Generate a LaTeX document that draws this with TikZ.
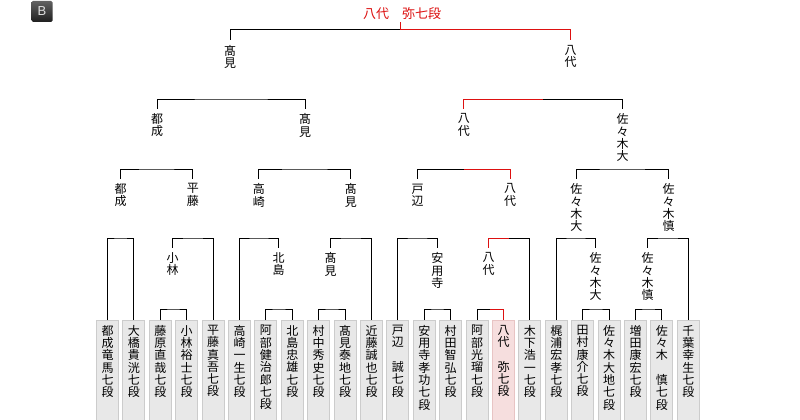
\documentclass[tikz,border=0pt]{standalone}
\usepackage{fontspec}
\newfontfamily\jp{Noto Sans CJK JP}
\newfontfamily\lat{Liberation Sans}
\definecolor{wred}{RGB}{221,17,17}
\definecolor{boxfill}{RGB}{232,232,232}
\definecolor{boxline}{RGB}{204,204,204}
\definecolor{pinkfill}{RGB}{246,222,222}
\definecolor{pinkline}{RGB}{232,196,196}
\tikzset{
  ln/.style={line width=1pt, black},
  rln/.style={line width=1pt, wred},
  nm/.style={inner sep=0pt, anchor=north, align=center, font=\jp\fontsize{12}{12.3}\selectfont},
  pbox/.style={draw=boxline, fill=boxfill, line width=1pt, minimum width=22pt, minimum height=106pt, anchor=north, inner sep=0pt},
  pinkbox/.style={pbox, draw=pinkline, fill=pinkfill},
  ttl/.style={inner sep=0pt, text=wred, font=\jp\fontsize{13}{13}\selectfont},
  badge/.style={minimum width=21pt, minimum height=21pt, inner sep=0pt, rounded corners=1.5pt,
    top color=black!62, bottom color=black!88, text=black!12, font=\lat\fontsize{13}{13}\selectfont}
}
\begin{document}
\begin{tikzpicture}[x=1pt,y=-1pt]
\useasboundingbox (0,0) rectangle (800,420);
\fill[white] (0,0) rectangle (800,420);
% badge
\node[badge] (bd) at (42,11.5) {B};
% player boxes
\foreach \i/\xx/\t in {
 0/107.5/{都\\成\\竜\\馬\\七\\段},
 1/133.9/{大\\橋\\貴\\洸\\七\\段},
 2/160.3/{藤\\原\\直\\哉\\七\\段},
 3/186.7/{小\\林\\裕\\士\\七\\段},
 4/213.1/{平\\藤\\真\\吾\\七\\段},
 5/239.5/{高\\崎\\一\\生\\七\\段},
 6/265.9/{阿\\部\\健\\治\\郎\\七\\段},
 7/292.3/{北\\島\\忠\\雄\\七\\段},
 8/318.7/{村\\中\\秀\\史\\七\\段},
 9/345.1/{髙\\見\\泰\\地\\七\\段},
 10/371.5/{近\\藤\\誠\\也\\七\\段},
 11/397.9/{戸\\辺\\　\\誠\\七\\段},
 12/424.3/{安\\用\\寺\\孝\\功\\七\\段},
 13/450.7/{村\\田\\智\\弘\\七\\段},
 14/477.1/{阿\\部\\光\\瑠\\七\\段},
 16/529.9/{木\\下\\浩\\一\\七\\段},
 17/556.3/{梶\\浦\\宏\\孝\\七\\段},
 18/582.7/{田\\村\\康\\介\\七\\段},
 19/609.1/{佐\\々\\木\\大\\地\\七\\段},
 20/635.5/{増\\田\\康\\宏\\七\\段},
 21/661.9/{佐\\々\\木\\　\\慎\\七\\段},
 22/688.3/{千\\葉\\幸\\生\\七\\段}}{
  \node[pbox] (b\i) at (\xx,320) {};
  \node[nm] (n\i) at (\xx,325) {\t};
}
\node[pinkbox] (b15) at (503.5,320) {};
\node[nm] (n15) at (503.5,325) {八\\代\\　\\弥\\七\\段};
% second-round labels
\node[nm] (rKob) at (172.5,252.5) {小\\林};
\node[nm] (rKit) at (278.5,252.5) {北\\島};
\node[nm] (rTak) at (330.5,252.5) {髙\\見};
\node[nm] (rAny) at (437.3,252.5) {安\\用\\寺};
\node[nm] (rYas) at (488.5,252.5) {八\\代};
\node[nm] (rSsd) at (595.5,252.5) {佐\\々\\木\\大};
\node[nm] (rSsm) at (647.5,252.5) {佐\\々\\木\\慎};
% third-round labels
\node[nm] (qA) at (120.7,183.5) {都\\成};
\node[nm] (qB) at (192.8,183.5) {平\\藤};
\node[nm] (qC) at (258.9,183.5) {高\\崎};
\node[nm] (qD) at (350.8,183.5) {髙\\見};
\node[nm] (qE) at (417.6,183.5) {戸\\辺};
\node[nm] (qF) at (510,183.5) {八\\代};
\node[nm] (qG) at (576.3,183.5) {佐\\々\\木\\大};
\node[nm] (qH) at (668.6,183.5) {佐\\々\\木\\慎};
% semifinal labels
\node[nm] (sA) at (157.2,113.5) {都\\成};
\node[nm] (sB) at (305,113.5) {髙\\見};
\node[nm] (sC) at (463.8,113.5) {八\\代};
\node[nm] (sD) at (622.6,113.5) {佐\\々\\木\\大};
% final labels
\node[nm] (fA) at (230,45) {髙\\見};
\node[nm] (fB) at (570.5,45) {八\\代};
% title
\node[ttl] (tt) at (402,14) {八代　弥七段};
% bracket joints
\coordinate (k1) at (173.5,309);
\coordinate (k2) at (279.1,309);
\coordinate (k3) at (331.9,309);
\coordinate (k4) at (437.5,309);
\coordinate (k5) at (490.3,309);
\coordinate (k6) at (595.9,309);
\coordinate (k7) at (648.7,309);
\coordinate (j1) at (120.7,238);
\coordinate (j2) at (192.8,238);
\coordinate (j3) at (258.9,238);
\coordinate (j4) at (351,238);
\coordinate (j5) at (417.6,238);
\coordinate (j6) at (509.2,238);
\coordinate (j7) at (575.9,238);
\coordinate (j8) at (667.9,238);
\coordinate (h1) at (156.8,169);
\coordinate (h2) at (305,169);
\coordinate (h3) at (463.8,169);
\coordinate (h4) at (622.4,169);
\coordinate (g1) at (231,99);
\coordinate (g2) at (543.2,99);
\coordinate (e) at (400.5,30);
% first round
\draw[ln] (b2.north) |- (k1) -| (b3.north);
\draw[ln] (b6.north) |- (k2) -| (b7.north);
\draw[ln] (b8.north) |- (k3) -| (b9.north);
\draw[ln] (b12.north) |- (k4) -| (b13.north);
\draw[ln] (b14.north) |- (k5);
\draw[rln] (k5) -| (b15.north);
\draw[ln] (b18.north) |- (k6) -| (b19.north);
\draw[ln] (b20.north) |- (k7) -| (b21.north);
% second round
\draw[ln] (b0.north) |- (j1) -| (b1.north);
\draw[ln] ([yshift=5pt]rKob.north) |- (j2) -| (b4.north);
\draw[ln] (b5.north) |- (j3) -| ([yshift=5pt]rKit.north);
\draw[ln] ([yshift=5pt]rTak.north) |- (j4) -| (b10.north);
\draw[ln] (b11.north) |- (j5) -| ([yshift=5pt]rAny.north);
\draw[rln] ([yshift=5pt]rYas.north) |- (j6);
\draw[ln] (j6) -| (b16.north);
\draw[ln] (b17.north) |- (j7) -| ([yshift=5pt]rSsd.north);
\draw[ln] ([yshift=5pt]rSsm.north) |- (j8) -| (b22.north);
% third round
\draw[ln] ([yshift=5pt]qA.north) |- (h1) -| ([yshift=5pt]qB.north);
\draw[ln] ([yshift=5pt]qC.north) |- (h2) -| ([yshift=5pt]qD.north);
\draw[ln] ([yshift=5pt]qE.north) |- (h3);
\draw[rln] (h3) -| ([yshift=5pt]qF.north);
\draw[ln] ([yshift=5pt]qG.north) |- (h4) -| ([yshift=5pt]qH.north);
% semifinals
\draw[ln] ([yshift=5pt]sA.north) |- (g1) -| ([yshift=5pt]sB.north);
\draw[rln] ([yshift=5pt]sC.north) |- (g2);
\draw[ln] (g2) -| ([yshift=5pt]sD.north);
% final
\draw[ln] ([yshift=5pt]fA.north) |- (e);
\draw[rln] (e) -| ([yshift=5pt]fB.north);
\draw[rln] ([yshift=-2pt]tt.south -| e) -- (e);
\end{tikzpicture}
\end{document}
